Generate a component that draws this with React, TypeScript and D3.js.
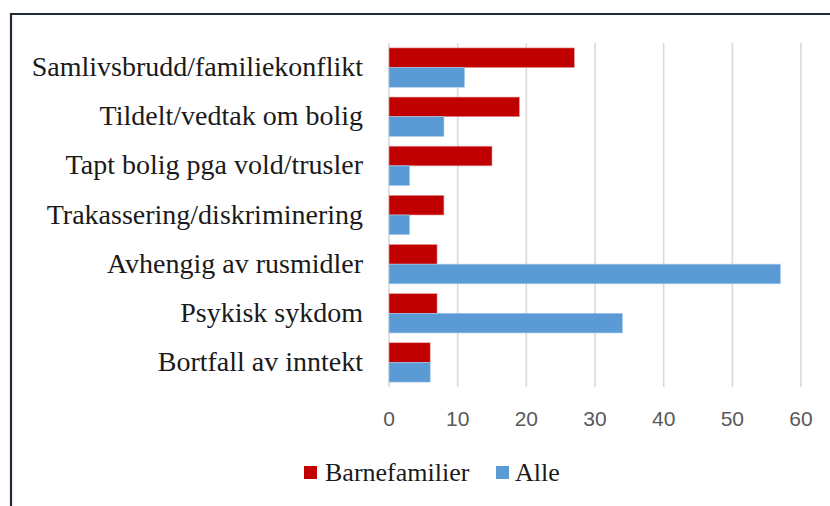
import React from "react";
import * as d3 from "d3";

const categories = [
  "Samlivsbrudd/familiekonflikt",
  "Tildelt/vedtak om bolig",
  "Tapt bolig pga vold/trusler",
  "Trakassering/diskriminering",
  "Avhengig av rusmidler",
  "Psykisk sykdom",
  "Bortfall av inntekt",
];
const barnefamilier = [27, 19, 15, 8, 7, 7, 6];
const alle = [11, 8, 3, 3, 57, 34, 6];
const xTicks = [0, 10, 20, 30, 40, 50, 60];
const seriesNames = ["Barnefamilier", "Alle"];
const seriesColors = ["#C00000", "#5B9BD5"];

const W = 830;
const H = 506;
const plot = { left: 389, right: 801, top: 43, bottom: 387 };

export default function App() {
  const x = d3.scaleLinear().domain([0, 60]).range([plot.left, plot.right]);
  const y = d3
    .scaleBand<string>()
    .domain(categories)
    .range([plot.top, plot.bottom])
    .paddingInner(0.2)
    .paddingOuter(0.1);
  const sub = d3
    .scaleBand<string>()
    .domain(seriesNames)
    .range([0, y.bandwidth()]);
  const series = [barnefamilier, alle];

  return (
    <svg
      width={W}
      height={H}
      style={{ position: "absolute", left: 0, top: 0, background: "#fff" }}
    >
      <rect x={0} y={0} width={W} height={H} fill="#fff" />
      <path d={`M11,${H} L11,14 L${W},14`} fill="none" stroke="#222a35" strokeWidth={2.2} />
      {xTicks.map((t) => (
        <line
          key={t}
          x1={x(t)}
          x2={x(t)}
          y1={plot.top}
          y2={plot.bottom}
          stroke="#d9d9d9"
          strokeWidth={1.6}
        />
      ))}
      {categories.map((c, i) =>
        series.map((s, j) => (
          <rect
            key={c + j}
            x={x(0)}
            y={(y(c) as number) + (sub(seriesNames[j]) as number)}
            width={x(s[i]) - x(0)}
            height={sub.bandwidth()}
            fill={seriesColors[j]}
            stroke={j === 0 ? "#e7a0a0" : "#a9cbeb"}
            strokeWidth={0.6}
          />
        ))
      )}
      {categories.map((c) => (
        <text
          key={c}
          x={363}
          y={(y(c) as number) + y.bandwidth() / 2 + 8.5}
          textAnchor="end"
          fontFamily="'Liberation Serif', serif"
          fontSize={28}
          fill="#1a1a1a"
        >
          {c}
        </text>
      ))}
      {xTicks.map((t) => (
        <text
          key={t}
          x={x(t)}
          y={426}
          textAnchor="middle"
          fontFamily="'Liberation Sans', sans-serif"
          fontSize={21}
          fill="#595959"
        >
          {t}
        </text>
      ))}
      <g>
        <rect x={304} y={466} width={13} height={13} fill={seriesColors[0]} />
        <text x={325} y={481} fontFamily="'Liberation Serif', serif" fontSize={26} fill="#1a1a1a">
          {seriesNames[0]}
        </text>
        <rect x={496} y={466} width={13} height={13} fill={seriesColors[1]} />
        <text x={515} y={481} fontFamily="'Liberation Serif', serif" fontSize={26} fill="#1a1a1a">
          {seriesNames[1]}
        </text>
      </g>
    </svg>
  );
}
